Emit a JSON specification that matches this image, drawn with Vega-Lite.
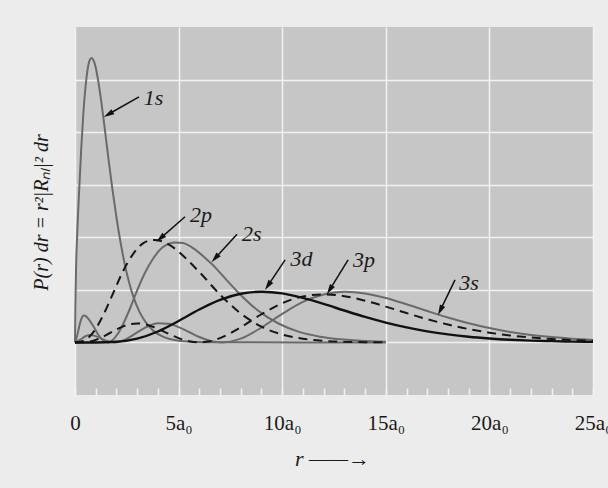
{
  "$schema": "https://vega.github.io/schema/vega-lite/v6.json",
  "width": 518,
  "height": 368,
  "autosize": {"type": "none"},
  "padding": {"left": 75, "top": 27, "right": 15, "bottom": 93},
  "background": "#ececec",
  "view": {"fill": "#c6c6c6", "stroke": null},
  "config": {"font": "Liberation Serif"},
  "datasets": {
    "curves": [
      {"orbital": "1s", "r": 0, "P": 0}, {"orbital": "1s", "r": 0.02, "P": 0.07}, {"orbital": "1s", "r": 0.05, "P": 0.14}, {"orbital": "1s", "r": 0.1, "P": 0.2}, {"orbital": "1s", "r": 0.2, "P": 0.288}, {"orbital": "1s", "r": 0.3, "P": 0.368}, {"orbital": "1s", "r": 0.4, "P": 0.434}, {"orbital": "1s", "r": 0.5, "P": 0.483}, {"orbital": "1s", "r": 0.6, "P": 0.517}, {"orbital": "1s", "r": 0.7, "P": 0.536}, {"orbital": "1s", "r": 0.8, "P": 0.541}, {"orbital": "1s", "r": 0.9, "P": 0.536}, {"orbital": "1s", "r": 1.0, "P": 0.523}, {"orbital": "1s", "r": 1.2, "P": 0.477}, {"orbital": "1s", "r": 1.4, "P": 0.418}, {"orbital": "1s", "r": 1.6, "P": 0.354}, {"orbital": "1s", "r": 1.8, "P": 0.293}, {"orbital": "1s", "r": 2.0, "P": 0.238}, {"orbital": "1s", "r": 2.2, "P": 0.19}, {"orbital": "1s", "r": 2.4, "P": 0.149}, {"orbital": "1s", "r": 2.6, "P": 0.116}, {"orbital": "1s", "r": 2.8, "P": 0.089}, {"orbital": "1s", "r": 3.1, "P": 0.059}, {"orbital": "1s", "r": 3.4, "P": 0.039}, {"orbital": "1s", "r": 3.8, "P": 0.0215}, {"orbital": "1s", "r": 4.3, "P": 0.01}, {"orbital": "1s", "r": 4.8, "P": 0.0045}, {"orbital": "1s", "r": 5.8, "P": 0.001}, {"orbital": "1s", "r": 7, "P": 0.0002}, {"orbital": "1s", "r": 15, "P": 0},
      {"orbital": "2s", "r": 0, "P": 0}, {"orbital": "2s", "r": 0.1, "P": 0.012}, {"orbital": "2s", "r": 0.2, "P": 0.03}, {"orbital": "2s", "r": 0.3, "P": 0.044}, {"orbital": "2s", "r": 0.42, "P": 0.051}, {"orbital": "2s", "r": 0.55, "P": 0.049}, {"orbital": "2s", "r": 0.7, "P": 0.042}, {"orbital": "2s", "r": 0.9, "P": 0.03}, {"orbital": "2s", "r": 1.1, "P": 0.016}, {"orbital": "2s", "r": 1.3, "P": 0.006}, {"orbital": "2s", "r": 1.5, "P": 0.002}, {"orbital": "2s", "r": 1.6, "P": 0}, {"orbital": "2s", "r": 1.76, "P": 0.0027}, {"orbital": "2s", "r": 2.06, "P": 0.016}, {"orbital": "2s", "r": 2.36, "P": 0.038}, {"orbital": "2s", "r": 2.66, "P": 0.065}, {"orbital": "2s", "r": 2.96, "P": 0.095}, {"orbital": "2s", "r": 3.36, "P": 0.131}, {"orbital": "2s", "r": 3.78, "P": 0.16}, {"orbital": "2s", "r": 4.2, "P": 0.18}, {"orbital": "2s", "r": 4.55, "P": 0.188}, {"orbital": "2s", "r": 4.85, "P": 0.19}, {"orbital": "2s", "r": 5.2, "P": 0.189}, {"orbital": "2s", "r": 5.75, "P": 0.178}, {"orbital": "2s", "r": 6.3, "P": 0.16}, {"orbital": "2s", "r": 6.58, "P": 0.15}, {"orbital": "2s", "r": 6.83, "P": 0.14}, {"orbital": "2s", "r": 7.33, "P": 0.118}, {"orbital": "2s", "r": 7.83, "P": 0.097}, {"orbital": "2s", "r": 8.82, "P": 0.061}, {"orbital": "2s", "r": 9.82, "P": 0.036}, {"orbital": "2s", "r": 10.82, "P": 0.02}, {"orbital": "2s", "r": 11.82, "P": 0.011}, {"orbital": "2s", "r": 12.82, "P": 0.006}, {"orbital": "2s", "r": 13.8, "P": 0.003}, {"orbital": "2s", "r": 15, "P": 0.0014},
      {"orbital": "2p", "r": 0, "P": 0}, {"orbital": "2p", "r": 0.3, "P": 0.0016}, {"orbital": "2p", "r": 0.8, "P": 0.0153}, {"orbital": "2p", "r": 1.3, "P": 0.047}, {"orbital": "2p", "r": 1.8, "P": 0.09}, {"orbital": "2p", "r": 2.3, "P": 0.134}, {"orbital": "2p", "r": 2.8, "P": 0.168}, {"orbital": "2p", "r": 3.3, "P": 0.189}, {"orbital": "2p", "r": 3.8, "P": 0.195}, {"orbital": "2p", "r": 4.35, "P": 0.19}, {"orbital": "2p", "r": 4.9, "P": 0.176}, {"orbital": "2p", "r": 5.45, "P": 0.156}, {"orbital": "2p", "r": 6.0, "P": 0.134}, {"orbital": "2p", "r": 7.0, "P": 0.091}, {"orbital": "2p", "r": 8.0, "P": 0.055}, {"orbital": "2p", "r": 9.0, "P": 0.03}, {"orbital": "2p", "r": 10.0, "P": 0.015}, {"orbital": "2p", "r": 11, "P": 0.007}, {"orbital": "2p", "r": 12, "P": 0.003}, {"orbital": "2p", "r": 13, "P": 0.0012}, {"orbital": "2p", "r": 14, "P": 0.0005}, {"orbital": "2p", "r": 15, "P": 0.0002},
      {"orbital": "3s", "r": 0, "P": 0}, {"orbital": "3s", "r": 0.25, "P": 0.0052}, {"orbital": "3s", "r": 0.5, "P": 0.0118}, {"orbital": "3s", "r": 0.75, "P": 0.0141}, {"orbital": "3s", "r": 1.0, "P": 0.012}, {"orbital": "3s", "r": 1.5, "P": 0.0032}, {"orbital": "3s", "r": 1.9, "P": 0}, {"orbital": "3s", "r": 2.5, "P": 0.0069}, {"orbital": "3s", "r": 3, "P": 0.019}, {"orbital": "3s", "r": 3.5, "P": 0.0303}, {"orbital": "3s", "r": 4, "P": 0.0363}, {"orbital": "3s", "r": 4.5, "P": 0.0354}, {"orbital": "3s", "r": 5, "P": 0.0291}, {"orbital": "3s", "r": 5.5, "P": 0.0198}, {"orbital": "3s", "r": 6, "P": 0.0103}, {"orbital": "3s", "r": 6.5, "P": 0.0032}, {"orbital": "3s", "r": 7.1, "P": 0}, {"orbital": "3s", "r": 7.5, "P": 0.0015}, {"orbital": "3s", "r": 8, "P": 0.0072}, {"orbital": "3s", "r": 9, "P": 0.0283}, {"orbital": "3s", "r": 10, "P": 0.0542}, {"orbital": "3s", "r": 11, "P": 0.077}, {"orbital": "3s", "r": 12, "P": 0.0913}, {"orbital": "3s", "r": 13, "P": 0.0962}, {"orbital": "3s", "r": 14, "P": 0.0932}, {"orbital": "3s", "r": 15, "P": 0.0845}, {"orbital": "3s", "r": 16, "P": 0.0726}, {"orbital": "3s", "r": 17, "P": 0.0597}, {"orbital": "3s", "r": 18, "P": 0.0473}, {"orbital": "3s", "r": 19, "P": 0.0364}, {"orbital": "3s", "r": 20, "P": 0.0273}, {"orbital": "3s", "r": 21, "P": 0.02}, {"orbital": "3s", "r": 22, "P": 0.0143}, {"orbital": "3s", "r": 23, "P": 0.0101}, {"orbital": "3s", "r": 24, "P": 0.007}, {"orbital": "3s", "r": 25, "P": 0.0048},
      {"orbital": "3p", "r": 0, "P": 0}, {"orbital": "3p", "r": 0.5, "P": 0.0005}, {"orbital": "3p", "r": 1, "P": 0.0047}, {"orbital": "3p", "r": 1.5, "P": 0.0138}, {"orbital": "3p", "r": 2, "P": 0.0247}, {"orbital": "3p", "r": 2.5, "P": 0.0331}, {"orbital": "3p", "r": 3, "P": 0.0361}, {"orbital": "3p", "r": 3.5, "P": 0.0333}, {"orbital": "3p", "r": 4, "P": 0.026}, {"orbital": "3p", "r": 4.5, "P": 0.0168}, {"orbital": "3p", "r": 5, "P": 0.0082}, {"orbital": "3p", "r": 5.5, "P": 0.0021}, {"orbital": "3p", "r": 6, "P": 0}, {"orbital": "3p", "r": 6.5, "P": 0.0021}, {"orbital": "3p", "r": 7, "P": 0.0083}, {"orbital": "3p", "r": 8, "P": 0.0289}, {"orbital": "3p", "r": 9, "P": 0.0536}, {"orbital": "3p", "r": 10, "P": 0.0745}, {"orbital": "3p", "r": 11, "P": 0.0874}, {"orbital": "3p", "r": 12, "P": 0.0914}, {"orbital": "3p", "r": 13, "P": 0.088}, {"orbital": "3p", "r": 14, "P": 0.0794}, {"orbital": "3p", "r": 15, "P": 0.0681}, {"orbital": "3p", "r": 16, "P": 0.0559}, {"orbital": "3p", "r": 17, "P": 0.0442}, {"orbital": "3p", "r": 18, "P": 0.034}, {"orbital": "3p", "r": 19, "P": 0.0254}, {"orbital": "3p", "r": 20, "P": 0.0186}, {"orbital": "3p", "r": 21, "P": 0.0133}, {"orbital": "3p", "r": 22, "P": 0.0094}, {"orbital": "3p", "r": 23, "P": 0.0065}, {"orbital": "3p", "r": 24, "P": 0.0044}, {"orbital": "3p", "r": 25, "P": 0.003},
      {"orbital": "3d", "r": 0, "P": 0}, {"orbital": "3d", "r": 1, "P": 0}, {"orbital": "3d", "r": 2, "P": 0.0012}, {"orbital": "3d", "r": 3, "P": 0.0072}, {"orbital": "3d", "r": 4, "P": 0.0208}, {"orbital": "3d", "r": 5, "P": 0.0408}, {"orbital": "3d", "r": 6, "P": 0.0626}, {"orbital": "3d", "r": 7, "P": 0.0809}, {"orbital": "3d", "r": 8, "P": 0.0926}, {"orbital": "3d", "r": 9, "P": 0.0964}, {"orbital": "3d", "r": 10, "P": 0.0932}, {"orbital": "3d", "r": 11, "P": 0.0846}, {"orbital": "3d", "r": 12, "P": 0.0732}, {"orbital": "3d", "r": 13, "P": 0.0607}, {"orbital": "3d", "r": 14, "P": 0.0486}, {"orbital": "3d", "r": 15, "P": 0.0378}, {"orbital": "3d", "r": 16, "P": 0.0286}, {"orbital": "3d", "r": 17, "P": 0.0211}, {"orbital": "3d", "r": 18, "P": 0.0153}, {"orbital": "3d", "r": 19, "P": 0.0108}, {"orbital": "3d", "r": 20, "P": 0.0076}, {"orbital": "3d", "r": 21, "P": 0.0052}, {"orbital": "3d", "r": 22, "P": 0.0035}, {"orbital": "3d", "r": 23, "P": 0.0024}, {"orbital": "3d", "r": 24, "P": 0.0016}, {"orbital": "3d", "r": 25, "P": 0.001}
    ],
    "labels": [
      {"label": "1s", "r": 3.79, "P": 0.452},
      {"label": "2p", "r": 6.08, "P": 0.229},
      {"label": "2s", "r": 8.53, "P": 0.192},
      {"label": "3d", "r": 10.93, "P": 0.145},
      {"label": "3p", "r": 13.95, "P": 0.143},
      {"label": "3s", "r": 19.02, "P": 0.1}
    ],
    "arrows": [
      {"r": 3.09, "P": 0.467, "r2": 1.61, "P2": 0.434},
      {"r": 5.31, "P": 0.239, "r2": 4.12, "P2": 0.198},
      {"r": 7.82, "P": 0.206, "r2": 6.76, "P2": 0.16},
      {"r": 10.14, "P": 0.157, "r2": 9.31, "P2": 0.108},
      {"r": 13.18, "P": 0.157, "r2": 12.29, "P2": 0.1},
      {"r": 18.34, "P": 0.119, "r2": 17.63, "P2": 0.061}
    ],
    "heads": [
      {"r": 1.61, "P": 0.434, "angle": 240},
      {"r": 4.12, "P": 0.198, "angle": 228.5},
      {"r": 6.76, "P": 0.16, "angle": 222},
      {"r": 9.31, "P": 0.108, "angle": 214},
      {"r": 12.29, "P": 0.1, "angle": 212},
      {"r": 17.63, "P": 0.061, "angle": 206}
    ]
  },
  "encoding": {
    "x": {
      "field": "r", "type": "quantitative",
      "scale": {"domain": [0, 25], "nice": false, "zero": false},
      "axis": {
        "title": "r ——→",
        "values": [0,1,2,3,4,5,6,7,8,9,10,11,12,13,14,15,16,17,18,19,20,21,22,23,24,25],
        "labelExpr": "datum.value % 5 === 0 ? (datum.value === 0 ? '0' : datum.value + 'a₀') : ''",
        "grid": true, "gridColor": "#f2f2f2", "gridWidth": 1.5,
        "gridOpacity": {"condition": {"test": "datum.value % 5 === 0", "value": 1}, "value": 0},
        "domain": false,
        "ticks": true, "tickColor": "#f2f2f2", "tickSize": -7, "tickWidth": 1.5,
        "labelFont": "Liberation Serif", "labelFontSize": 21, "labelColor": "#1a1a1a",
        "labelBaseline": "alphabetic", "labelPadding": 41,
        "labelOverlap": false, "labelFlush": false,
        "titleFont": "Liberation Serif", "titleFontSize": 22, "titleFontStyle": "italic", "titleFontWeight": "normal", "titleColor": "#1a1a1a",
        "titleX": 257, "titleY": 70, "titleAlign": "center", "titleBaseline": "alphabetic"
      }
    },
    "y": {
      "field": "P", "type": "quantitative",
      "scale": {"domain": [-0.1, 0.6], "nice": false, "zero": false},
      "axis": {
        "title": "P(r) dr  =  r²|Rₙₗ|² dr",
        "values": [0, 0.1, 0.2, 0.3, 0.4, 0.5],
        "labels": false, "ticks": false, "domain": false,
        "grid": true, "gridColor": "#f2f2f2", "gridWidth": 1.5,
        "titleFont": "Liberation Serif", "titleFontSize": 20, "titleFontStyle": "italic", "titleFontWeight": "normal", "titleColor": "#1a1a1a",
        "titleAngle": -90, "titleX": -28, "titleY": 185, "titleAlign": "center", "titleBaseline": "alphabetic"
      }
    }
  },
  "layer": [
    {
      "data": {"name": "curves"},
      "transform": [{"filter": "datum.orbital === '1s' || datum.orbital === '2s' || datum.orbital === '3s'"}],
      "mark": {"type": "line", "color": "#6a6a6a", "strokeWidth": 2, "interpolate": "monotone"},
      "encoding": {"detail": {"field": "orbital"}}
    },
    {
      "data": {"name": "curves"},
      "transform": [{"filter": "datum.orbital === '2p' || datum.orbital === '3p'"}],
      "mark": {"type": "line", "color": "#161616", "strokeWidth": 2, "strokeDash": [9, 6], "interpolate": "monotone"},
      "encoding": {"detail": {"field": "orbital"}}
    },
    {
      "data": {"name": "curves"},
      "transform": [{"filter": "datum.orbital === '3d'"}],
      "mark": {"type": "line", "color": "#111111", "strokeWidth": 2.4, "interpolate": "monotone"},
      "encoding": {}
    },
    {
      "data": {"name": "arrows"},
      "mark": {"type": "rule", "color": "#111111", "strokeWidth": 1.5},
      "encoding": {
        "x2": {"field": "r2"},
        "y2": {"field": "P2"}
      }
    },
    {
      "data": {"name": "heads"},
      "mark": {"type": "point", "shape": "M0,-1L0.55,1L-0.55,1Z", "filled": true, "color": "#111111", "size": 110, "opacity": 1},
      "encoding": {
        "angle": {"field": "angle", "type": "quantitative", "scale": null}
      }
    },
    {
      "data": {"name": "labels"},
      "mark": {"type": "text", "font": "Liberation Serif", "fontSize": 22, "fontStyle": "italic", "color": "#1a1a1a", "align": "center", "baseline": "alphabetic"},
      "encoding": {
        "text": {"field": "label"}
      }
    }
  ]
}
